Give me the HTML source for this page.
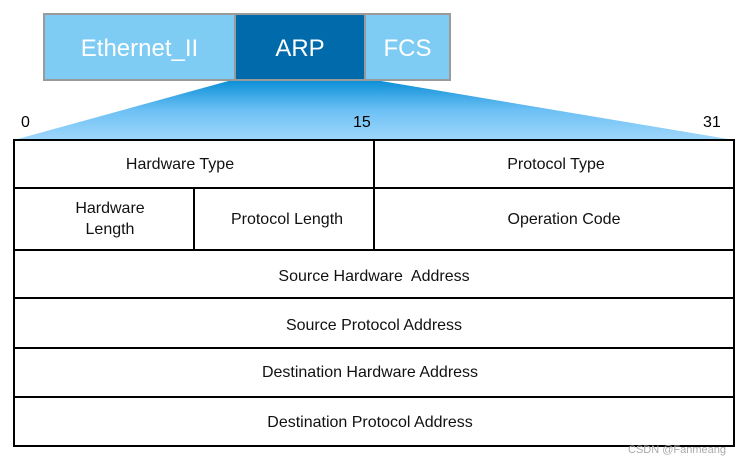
<!DOCTYPE html>
<html><head><style>
body{margin:0;width:748px;height:463px;background:#fff;font-family:"Liberation Sans",Arial,sans-serif;position:relative;overflow:hidden}
.b{position:absolute;box-sizing:border-box;display:flex;align-items:center;justify-content:center;text-align:center;padding-top:4px}
.t{position:absolute;font-size:16px;color:#000}
.c{position:absolute;box-sizing:border-box;display:flex;align-items:center;justify-content:center;text-align:center;font-size:16px;color:#111;line-height:21px}
</style></head><body>
<svg width="748" height="463" style="position:absolute;left:0;top:0">
<defs><linearGradient id="g" x1="0" y1="0" x2="0" y2="1"><stop offset="0" stop-color="#0a8ed6"/><stop offset="0.5" stop-color="#6cc0f4"/><stop offset="1" stop-color="#9fd6fb"/></linearGradient></defs>
<polygon points="232,80 375,80 734,140 14,140" fill="url(#g)"/>
<rect x="44" y="14" width="406" height="66" fill="#7ecbf3" stroke="#9a9a9a" stroke-width="2"/>
<rect x="235" y="14" width="130" height="66" fill="#006aab" stroke="#9a9a9a" stroke-width="2"/>
<line x1="365" y1="14" x2="365" y2="80" stroke="#9a9a9a" stroke-width="2"/>
<g fill="none" stroke="#000" stroke-width="2">
<rect x="14" y="140" width="720" height="306"/>
<line x1="14" y1="188" x2="734" y2="188"/>
<line x1="14" y1="250" x2="734" y2="250"/>
<line x1="14" y1="298" x2="734" y2="298"/>
<line x1="14" y1="348" x2="734" y2="348"/>
<line x1="14" y1="397" x2="734" y2="397"/>
<line x1="374" y1="140" x2="374" y2="250"/>
<line x1="194" y1="188" x2="194" y2="250"/>
</g>
</svg>
<div class="b" style="left:44px;top:14px;width:191px;height:66px;color:#fff;font-size:24px">Ethernet_II</div>
<div class="b" style="left:235px;top:14px;width:130px;height:66px;color:#fff;font-size:24px">ARP</div>
<div class="b" style="left:365px;top:14px;width:85px;height:66px;color:#fff;font-size:24px">FCS</div>
<div class="t" style="left:21px;top:114px">0</div>
<div class="t" style="left:353px;top:114px">15</div>
<div class="t" style="left:703px;top:114px">31</div>
<div class="c" style="left:0px;top:140px;width:360px;height:48px">Hardware Type</div>
<div class="c" style="left:376px;top:140px;width:360px;height:48px">Protocol Type</div>
<div class="c" style="left:20px;top:188px;width:180px;height:62px">Hardware<br>Length</div>
<div class="c" style="left:197px;top:188px;width:180px;height:62px">Protocol Length</div>
<div class="c" style="left:384px;top:188px;width:360px;height:62px">Operation Code</div>
<div class="c" style="left:14px;top:252px;width:720px;height:48px">Source Hardware&nbsp; Address</div>
<div class="c" style="left:14px;top:300px;width:720px;height:50px">Source Protocol Address</div>
<div class="c" style="left:10px;top:348px;width:720px;height:49px">Destination Hardware Address</div>
<div class="c" style="left:10px;top:398px;width:720px;height:49px">Destination Protocol Address</div>
<div class="t" style="left:628px;top:444px;font-size:11px;color:#aaa">CSDN @Fanmeang</div>
</body></html>
